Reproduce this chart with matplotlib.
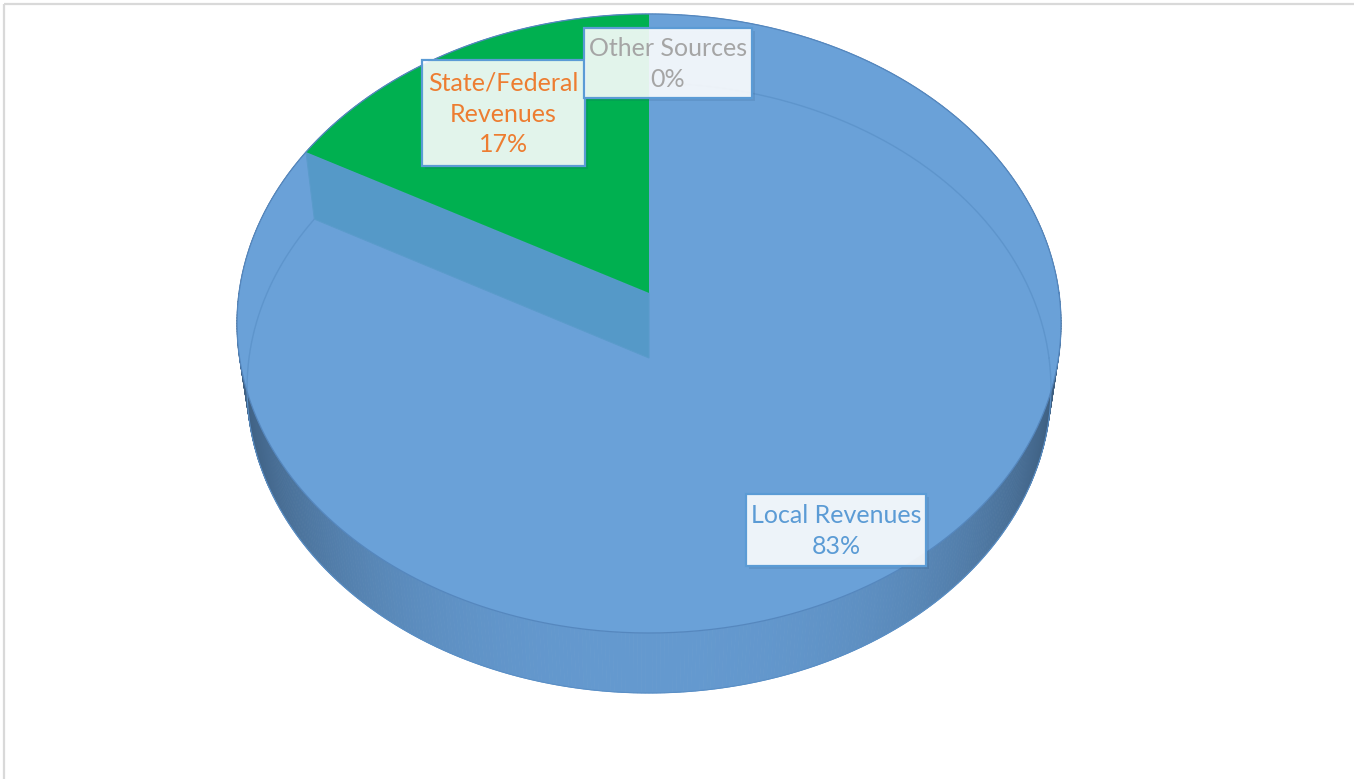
import numpy as np
import matplotlib
matplotlib.use('Agg')
import matplotlib.pyplot as plt
from matplotlib.patches import Polygon, Rectangle
from matplotlib.colors import to_rgb

# ---------------- data ----------------
categories = ['Local Revenues', 'State/Federal Revenues', 'Other Sources']
label_names = ['Local Revenues', 'State/Federal\nRevenues', 'Other Sources']
values = [83, 17, 0]
slice_colors = ['#6AA1D8', '#00B050', '#A5A5A5']
text_colors = ['#5B9BD5', '#ED7D31', '#A5A5A5']

# ---------------- geometry (pixel space) ----------------
W, H = 1354, 779
cx, cy = 649.0, 293.0     # projected centre of top face
rx, b, k = 410.0, 306.5, 0.0985
rx_b, b_b, dz = 400.0, 302.0, 65.0   # bottom face (further from camera)

def proj(t, bottom=False):
    t = np.atleast_1d(t)
    u, v = np.cos(t), np.sin(t)
    w = 1 + k * v
    if bottom:
        return np.column_stack([cx + rx_b * u / w, cy + dz - b_b * v / w])
    return np.column_stack([cx + rx * u / w, cy - b * v / w])

fig = plt.figure(figsize=(W / 100, H / 100), dpi=100)
ax = fig.add_axes([0, 0, 1, 1])
ax.set_xlim(0, W)
ax.set_ylim(H, 0)
ax.axis('off')

# chart border (top + left)
ax.plot([4, W], [4, 4], color='#D9D9D9', lw=1.6, zorder=20, solid_capstyle='butt')
ax.plot([4, 4], [4, H], color='#D9D9D9', lw=1.6, zorder=20, solid_capstyle='butt')

# slice angles: start at 12 o'clock, clockwise
total = float(sum(values))
angles = []
start = np.pi / 2
for v in values:
    sweep = 2 * np.pi * v / total
    angles.append((start, start - sweep))
    start -= sweep

# ---------------- side wall ----------------
base_side = np.array(to_rgb('#6499CF'))
ts = np.linspace(0, 2 * np.pi, 721)
for t0, t1 in zip(ts[:-1], ts[1:]):
    tm = 0.5 * (t0 + t1)
    s = 1 - 0.40 * abs(np.cos(tm)) ** 2.5
    col = np.clip(base_side * s, 0, 1)
    pts = np.vstack([proj(np.array([t0, t1])), proj(np.array([t1, t0]), True)])
    ax.add_patch(Polygon(pts, closed=True, fc=col, ec=col, lw=0.6, zorder=1))

# bottom outline
tb = np.linspace(np.pi, 2 * np.pi, 400)
ax.plot(*proj(tb, True).T, color='#5A8FC6', lw=0.8, zorder=1.5)

# ---------------- top faces ----------------
top_polys = []
for i, (a0, a1) in enumerate(angles):
    if abs(a0 - a1) < 1e-9:
        top_polys.append(None)
        continue
    arc = proj(np.linspace(a0, a1, 600))
    top_polys.append(np.vstack([[cx, cy], arc]))

# blue (Local) top face
blue = Polygon(top_polys[0], closed=True, fc=slice_colors[0], ec='none', zorder=2)
ax.add_patch(blue)

# bottom ellipse seen through translucent top
tl = np.linspace(0, 2 * np.pi, 800)
ln, = ax.plot(*proj(tl, True).T, color='#5E95CC', lw=1.0, zorder=3)
ln.set_clip_path(blue)

# radial wall of Local slice at the State/Federal boundary, seen through top
a_b = angles[0][1]
quad = np.vstack([[cx, cy], proj(a_b)[0], proj(a_b, True)[0], [cx, cy + dz]])
ax.add_patch(Polygon(quad, closed=True, fc='#5599C8', ec='#5A9BCB', lw=0.8, zorder=3))

# green (State/Federal) top face
ax.add_patch(Polygon(top_polys[1], closed=True, fc=slice_colors[1], ec='none', zorder=4))

# rim outline
ax.plot(*proj(np.linspace(0, 2 * np.pi, 900)).T, color='#5587BE', lw=0.9, zorder=5)

# ---------------- labels ----------------
boxes = [
    (746, 494, 180, 72),   # Local
    (422, 60, 163, 106),   # State/Federal
    (584, 28, 168, 70),    # Other
]
for i in [1, 2, 0]:
    x0, y0, bw, bh = boxes[i]
    ax.add_patch(Rectangle((x0 + 3, y0 + 3), bw, bh, fc='#1F3F66', ec='none', alpha=0.12, zorder=9))
    ax.add_patch(Rectangle((x0, y0), bw, bh, fc=(1, 1, 1, 0.89), ec='#5B9BD5', lw=1.6, zorder=10))
    txt = f"{label_names[i]}\n{values[i]}%"
    ax.text(x0 + bw / 2, y0 + bh / 2 + 1, txt, ha='center', va='center', multialignment='center',
            fontsize=18, family='Lato', color=text_colors[i], linespacing=1.42, zorder=11)

fig.savefig('out.png', dpi=100)
